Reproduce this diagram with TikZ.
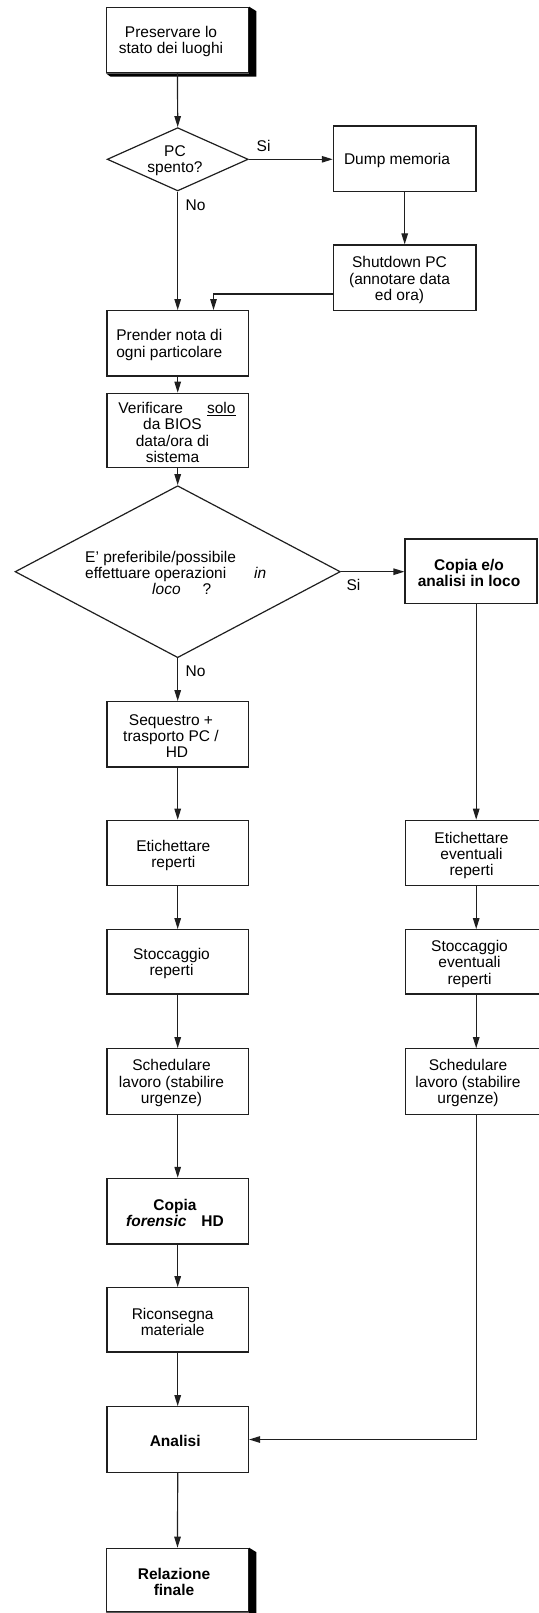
\documentclass[tikz,border=0pt]{standalone}
\usepackage{fontspec}
\setmainfont{Liberation Sans}
\usetikzlibrary{shapes.geometric,arrows.meta}
\begin{document}
\begin{tikzpicture}[x=1pt,y=-1pt,
  ln/.style={line width=1.2pt,draw=black!88},
  box/.style={ln,rectangle,fill=white,minimum width=141.5pt,minimum height=65.5pt,inner sep=0pt},
  dia/.style={ln,diamond,fill=white,inner sep=0pt},
  txt/.style={align=center,inner sep=0pt,font=\fontsize{15.5}{16.4}\selectfont},
  btxt/.style={txt,font=\fontsize{15.5}{16.4}\selectfont\bfseries},
  arr/.style={ln,-{Triangle[length=11pt,width=6.5pt]}},
  shadow/.style={fill=black}
]
\useasboundingbox (0,0) rectangle (538,1613);

% boxes
\node[box,minimum width=142pt,minimum height=65.4pt] (b1) at (177.5,40) {};
\node[dia,minimum width=141pt,minimum height=63.3pt] (d1) at (177.7,159.3) {};
\node[box,minimum width=142.7pt,minimum height=65.7pt] (dump) at (404.7,158.9) {};
\node[box,minimum width=142.7pt,minimum height=65.7pt] (shut) at (404.7,277.8) {};
\node[box,minimum height=65.3pt] (prender) at (177.7,343.3) {};
\node[box,minimum height=74pt] (verif) at (177.7,430.3) {};
\node[dia,minimum width=325.3pt,minimum height=172pt] (d2) at (177.7,571.7) {};
\node[box,minimum width=132pt,minimum height=64.3pt] (copia) at (471,571.2) {};
\node[box,minimum height=65.3pt] (seq) at (177.7,734.3) {};
\node[box,minimum height=65.4pt] (etic) at (177.7,853) {};
\node[box,minimum height=64.3pt] (stoc) at (177.7,961.8) {};
\node[box,minimum height=65.6pt] (sched) at (177.7,1081.5) {};
\node[box,minimum height=65.4pt] (etic2) at (476.2,853) {};
\node[box,minimum height=64.3pt] (stoc2) at (476.2,961.8) {};
\node[box,minimum height=65.6pt] (sched2) at (476.2,1081.5) {};
\node[box,minimum height=65.7pt] (forens) at (177.7,1211.2) {};
\node[box,minimum height=64.3pt] (ricon) at (177.7,1319.8) {};
\node[box,minimum height=65.6pt] (analisi) at (177.7,1439.5) {};
\node[box,minimum width=142pt,minimum height=63.4pt] (relaz) at (177.5,1580) {};

% shadows
\fill[shadow] (b1.north east) -- ([xshift=7.2pt,yshift=-4.4pt]b1.north east)
  -- ([xshift=7.2pt,yshift=-3.3pt]b1.south east) -- ([xshift=4.5pt,yshift=-3.3pt]b1.south west)
  -- (b1.south west) -- (b1.south east) -- cycle;
\fill[shadow] (relaz.north east) -- ([xshift=7.2pt,yshift=-4.4pt]relaz.north east)
  -- ([xshift=7.2pt,yshift=-3.3pt]relaz.south east) -- ([xshift=4.5pt,yshift=-3.3pt]relaz.south west)
  -- (relaz.south west) -- (relaz.south east) -- cycle;

% texts
\node[txt] (t1) at (171,41.3) {Preservare lo\\stato dei luoghi};
\node[txt] (td1) at (175,160.5) {PC\\spento?};
\node[txt] (tdump) at (397,160) {Dump memoria};
\node[txt] (tshut) at (399.5,280) {Shutdown PC\\(annotare data\\ed ora)};
\node[txt] (tprender) at (169.3,345) {Prender nota di\\ogni particolare};
\node[txt] (tverif) at (172.5,432.3) {\hspace*{9pt}Verificare\hspace{24pt}\underline{solo}\\da BIOS\\data/ora di\\sistema};
\node[txt,align=left,anchor=west] (td2) at (85,573) {E' preferibile/possibile\\effettuare operazioni\hspace{28pt}\textit{in}\\\hspace*{67pt}\textit{loco}\hspace{22pt}?};
\node[btxt] (tcopia) at (469,573) {Copia e/o\\analisi in loco};
\node[txt] (tseq) at (171,736) {Sequestro +\\trasporto PC /\\\hspace*{12pt}HD};
\node[txt] (tetic) at (173.3,855.2) {Etichettare\\reperti};
\node[txt] (tstoc) at (171.5,963.5) {Stoccaggio\\reperti};
\node[txt] (tsched) at (171.5,1083.2) {Schedulare\\lavoro (stabilire\\urgenze)};
\node[txt] (tetic2) at (471.5,855.5) {Etichettare\\eventuali\\reperti};
\node[txt] (tstoc2) at (469.5,963.7) {Stoccaggio\\eventuali\\reperti};
\node[txt] (tsched2) at (468,1083.2) {Schedulare\\lavoro (stabilire\\urgenze)};
\node[btxt] (tforens) at (175,1212.7) {Copia\\\textit{forensic}\hspace{15pt}HD};
\node[txt] (tricon) at (172.7,1322) {Riconsegna\\materiale};
\node[btxt] (tanal) at (175.2,1440.5) {Analisi};
\node[btxt] (trelaz) at (174,1582) {Relazione\\finale};

% labels
\node[txt] (lsi1) at (263.6,145.7) {Si};
\node[txt] (lno1) at (195.6,205) {No};
\node[txt] (lsi2) at (353.5,585) {Si};
\node[txt] (lno2) at (195.6,671.7) {No};

% connectors
\draw[arr] (b1.south) -- (d1.north);
\draw[arr] (d1.east) -- (d1.east -| dump.west);
\draw[arr] (dump.south) -- (shut.north);
\draw[arr] (d1.south) -- (prender.north);
\draw[arr] ([yshift=-16.2pt]shut.west) -| ([xshift=35.8pt]prender.north);
\draw[arr] (prender.south) -- (verif.north);
\draw[arr] (verif.south) -- (d2.north);
\draw[arr] (d2.east) -- (d2.east -| copia.west);
\draw[arr] (d2.south) -- (seq.north);
\draw[arr] (seq.south) -- (etic.north);
\draw[arr] (etic.south) -- (stoc.north);
\draw[arr] (stoc.south) -- (sched.north);
\draw[arr] (sched.south) -- (forens.north);
\draw[arr] (forens.south) -- (ricon.north);
\draw[arr] (ricon.south) -- (analisi.north);
\draw[arr] (analisi.south) -- (relaz.north);
\draw[arr] (etic2.north |- copia.south) -- (etic2.north);
\draw[arr] (etic2.south) -- (stoc2.north);
\draw[arr] (stoc2.south) -- (sched2.north);
\draw[arr] (sched2.south) |- (analisi.east);
\end{tikzpicture}
\end{document}
